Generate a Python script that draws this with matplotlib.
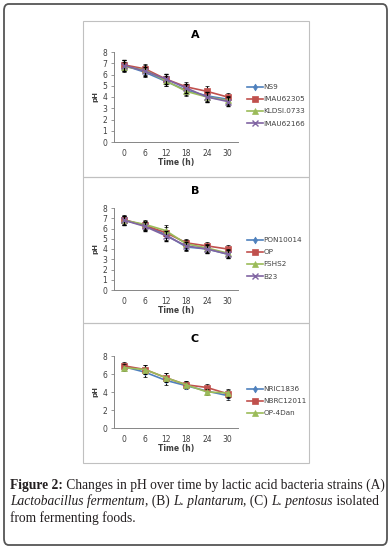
import numpy as np
import matplotlib.pyplot as plt
from matplotlib.patches import FancyBboxPatch, Rectangle

W, H = 391, 549

time_labels = ['0', '6', '12', '18', '24', '30']

# panel A - Lactobacillus fermentum
a_names = ['NS9', 'IMAU62305', 'KLDSl.0733', 'IMAU62166']
a_ns9 = [6.80, 6.20, 5.40, 4.60, 4.10, 3.80]
a_imau62305 = [6.85, 6.50, 5.60, 4.90, 4.50, 4.00]
a_klds = [6.70, 6.40, 5.45, 4.50, 4.00, 3.70]
a_imau62166 = [6.80, 6.30, 5.60, 4.80, 4.00, 3.60]
a_err = [0.45, 0.40, 0.45, 0.40, 0.45, 0.40]

# panel B - L. plantarum
b_names = ['PON10014', 'OP', 'FSHS2', 'B23']
b_pon = [6.80, 6.30, 5.40, 4.20, 4.00, 3.50]
b_op = [6.85, 6.30, 5.60, 4.60, 4.30, 4.00]
b_fshs2 = [6.80, 6.40, 5.80, 4.50, 4.10, 3.60]
b_b23 = [6.80, 6.20, 5.30, 4.30, 4.00, 3.50]
b_err = [0.45, 0.40, 0.50, 0.40, 0.35, 0.40]

# panel C - L. pentosus
c_names = ['NRIC1836', 'NBRC12011', 'OP-4Dan']
c_nric = [6.80, 6.20, 5.30, 4.70, 4.10, 3.60]
c_nbrc = [6.90, 6.50, 5.60, 4.80, 4.50, 3.80]
c_op4 = [6.70, 6.50, 5.60, 4.80, 4.00, 3.90]
c_err = [0.40, 0.50, 0.50, 0.40, 0.35, 0.45]

colors = ['#4F81BD', '#C0504D', '#9BBB59', '#8064A2']
markers = ['d', 's', '^', 'x']
msizes = [3.5, 4.5, 4, 4]
grey = '#404040'

fig = plt.figure(figsize=(W / 100, H / 100), dpi=100)


def px_axes(l, t, r, b):
    return fig.add_axes([l / W, 1 - b / H, (r - l) / W, (b - t) / H])


def px_text(x, y, s, **kw):
    return fig.text(x / W, 1 - y / H, s, **kw)


def draw_panel(top, bottom, title, series, names, err, yticks, box, title_y, xlab_y, leg_y):
    ax = px_axes(114, top, 238, bottom)
    x = np.arange(len(time_labels))
    handles = []
    for i, vals in enumerate(series):
        c = ax.errorbar(x, vals, yerr=err, color=colors[i], marker=markers[i], ms=msizes[i],
                        lw=1.2, ecolor='black', elinewidth=0.8, capsize=1.5, capthick=0.8,
                        mew=1 if markers[i] == 'x' else 0.5, zorder=3 + i)
        handles.append(c[0])
    ax.set_xlim(-0.5, 5.5)
    ax.set_ylim(0, 8)
    ax.set_xticks(x)
    ax.set_xticklabels(time_labels)
    ax.set_yticks(yticks)
    for s in ['top', 'right']:
        ax.spines[s].set_visible(False)
    for s in ['left', 'bottom']:
        ax.spines[s].set_color('#868686')
        ax.spines[s].set_linewidth(0.7)
    ax.tick_params(axis='y', length=2, width=0.6, color='#868686', labelsize=5.5,
                   labelcolor=grey, pad=3)
    ax.tick_params(axis='x', length=0, labelsize=5.5, labelcolor=grey, pad=5)
    ax.patch.set_alpha(0)
    ax.set_ylabel('pH', fontsize=5, fontweight='bold', color=grey, labelpad=3)
    px_text(176, xlab_y, 'Time (h)', fontsize=5.5, fontweight='bold', color=grey,
            ha='center', va='center')
    px_text(195, title_y, title, fontsize=8, fontweight='bold', color='black',
            ha='center', va='center')
    ax.legend(handles, names, loc='upper left', bbox_to_anchor=(247 / W, 1 - leg_y / H),
              bbox_transform=fig.transFigure, frameon=False, fontsize=5.2,
              labelspacing=0.85, handlelength=2.2, handletextpad=0.1,
              borderpad=0, borderaxespad=0, labelcolor=grey)
    fig.add_artist(Rectangle((box[0] / W, 1 - box[3] / H), (box[2] - box[0]) / W,
                             (box[3] - box[1]) / H, transform=fig.transFigure,
                             fill=False, ec='#c0c0c0', lw=0.8))
    return ax


draw_panel(52, 142, 'A', [a_ns9, a_imau62305, a_klds, a_imau62166], a_names, a_err,
           range(0, 9), (83, 21, 309, 177), 35, 163, 84)
draw_panel(208, 290, 'B', [b_pon, b_op, b_fshs2, b_b23], b_names, b_err,
           range(0, 9), (83, 177, 309, 323), 191, 311, 237)
draw_panel(356, 428, 'C', [c_nric, c_nbrc, c_op4], c_names, c_err,
           range(0, 9, 2), (83, 323, 309, 463), 339, 448, 386)

# outer rounded frame
fig.add_artist(FancyBboxPatch((4 / W, 4 / H), 383 / W, 541 / H,
                              boxstyle='round,pad=0,rounding_size=0.012',
                              transform=fig.transFigure, fill=False,
                              ec='#555555', lw=1.3))

# caption with mixed styles
fig.canvas.draw()
renderer = fig.canvas.get_renderer()
cap_font = 'Liberation Serif'
cap_size = 9.75
lines = [
    [('Figure 2:', 'bold', 'normal'),
     (' Changes in pH over time by lactic acid bacteria strains (A)', 'normal', 'normal')],
    [('Lactobacillus fermentum', 'normal', 'italic'), (', (B) ', 'normal', 'normal'),
     ('L. plantarum', 'normal', 'italic'), (', (C) ', 'normal', 'normal'),
     ('L. pentosus', 'normal', 'italic'), (' isolated', 'normal', 'normal')],
    [('from fermenting foods.', 'normal', 'normal')],
]
line_y = [485, 501.5, 518]
for parts, yy in zip(lines, line_y):
    xx = 10
    for s, wgt, sty in parts:
        t = px_text(xx, yy, s, fontsize=cap_size, fontfamily=cap_font, fontweight=wgt,
                    fontstyle=sty, color='#231f20', ha='left', va='center')
        xx += t.get_window_extent(renderer).width

fig.savefig('out.png', dpi=100)
